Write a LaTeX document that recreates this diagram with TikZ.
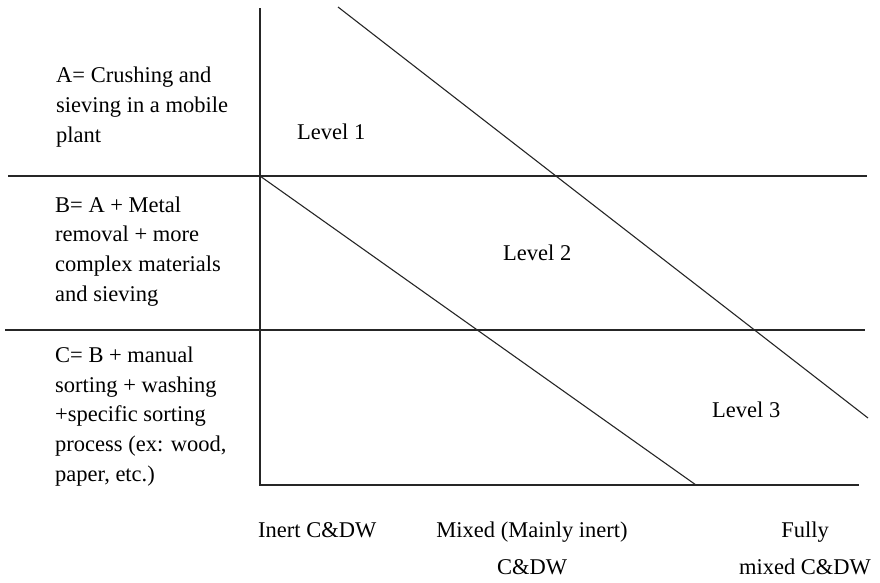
\documentclass[tikz,border=0pt]{standalone}
\usepackage{fontspec}
\setmainfont{Liberation Serif}
\usetikzlibrary{positioning}

\begin{document}
\begin{tikzpicture}[x=1pt, y=-1pt,
		frame/.style={line width=1.6pt, draw=black!85},
		diag/.style={line width=1.1pt, draw=black!85},
		desc/.style={font=\fontsize{22.5}{29.6}\selectfont, align=left, anchor=base west, inner sep=0pt},
		lvl/.style={font=\fontsize{22.5}{27}\selectfont, anchor=base west, inner sep=0pt},
		axlbl/.style={font=\fontsize{22.5}{36.5}\selectfont, align=center, anchor=base, inner sep=0pt}
	]
	\useasboundingbox (0,0) rectangle (880,582);
	% frame of the chart
	\draw[frame] (260,8) -- (260,485) -- (859,485);
	\draw[frame] (8,176) -- (867,176);
	\draw[frame] (5,330) -- (865,330);
	% level boundaries
	\draw[diag] (338,7) -- (868,418);
	\draw[diag] (260,176) -- (696,485);
	% process descriptions (base = last line)
	\node[desc] (pa) at (56,142) {A= Crushing and\\sieving in a mobile\\plant};
	\node[desc] (pb) at (55,301) {B= A + Metal\\removal + more\\complex materials\\and sieving};
	\node[desc] (pc) at (55,481) {C= B + manual\\sorting + washing\\+specific sorting\\process (ex: wood,\\paper, etc.)};
	% levels
	\node[lvl] (l1) at (297,139) {Level 1};
	\node[lvl] (l2) at (503,260) {Level 2};
	\node[lvl] (l3) at (712,417) {Level 3};
	% waste types
	\node[axlbl, anchor=base west] (inert) at (258,537) {Inert C\&DW};
	\node[axlbl] (mixed) at (532,574) {Mixed (Mainly inert)\\C\&DW};
	\node[axlbl] (fully) at (805,574) {Fully\\mixed C\&DW};
\end{tikzpicture}
\end{document}
